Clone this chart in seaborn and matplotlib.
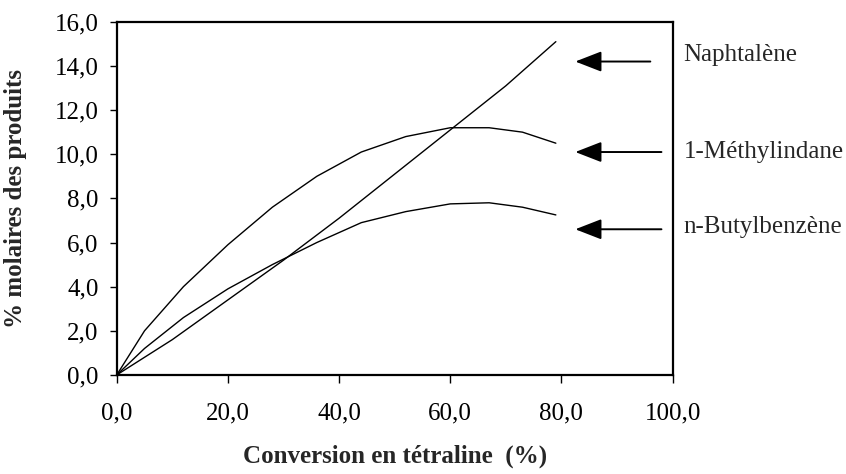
import matplotlib
matplotlib.use("Agg")
import matplotlib.pyplot as plt
import seaborn as sns
import pandas as pd
from matplotlib.ticker import FuncFormatter

# values
conv_naph = [0, 10, 20, 30, 40, 50, 60, 70, 79]
naphtalene = [0, 1.6, 3.4, 5.2, 7.1, 9.1, 11.1, 13.1, 15.1]

conv_curves = [0, 5, 12, 20, 28, 36, 44, 52, 60, 67, 73, 79]
methylindane = [0, 2.0, 4.0, 5.9, 7.6, 9.0, 10.1, 10.8, 11.2, 11.2, 11.0, 10.5]
butylbenzene = [0, 1.2, 2.6, 3.9, 5.0, 6.0, 6.9, 7.4, 7.75, 7.8, 7.6, 7.25]

labels = ["Naphtalène", "1-Méthylindane", "n-Butylbenzène"]
label_y = [14.5, 10.1, 6.7]
arrow_y = [14.2, 10.1, 6.6]
arrow_tail = [96.0, 98.0, 98.0]
arrow_head = [82.5, 82.5, 82.5]

df = pd.concat([
    pd.DataFrame({"conv": conv_naph, "val": naphtalene, "prod": labels[0]}),
    pd.DataFrame({"conv": conv_curves, "val": methylindane, "prod": labels[1]}),
    pd.DataFrame({"conv": conv_curves, "val": butylbenzene, "prod": labels[2]}),
])

sns.set_theme(style="ticks")
plt.rcParams["font.family"] = ["Liberation Serif", "DejaVu Serif"]

fig = plt.figure(figsize=(8.46, 4.74), dpi=100)
ax = fig.add_axes([0.138, 0.209, 0.657, 0.745])

sns.lineplot(data=df, x="conv", y="val", hue="prod", estimator=None,
             palette=["black"] * 3, linewidth=1.0, legend=False, ax=ax)

ax.set_xlim(0, 100)
ax.set_ylim(0, 16)
ax.set_xticks(range(0, 101, 20))
ax.set_yticks(range(0, 17, 2))
fmt = FuncFormatter(lambda v, p: f"{v:.1f}".replace(".", ","))
ax.xaxis.set_major_formatter(fmt)
ax.yaxis.set_major_formatter(fmt)
ax.tick_params(axis="x", labelsize=18, length=6, width=1, pad=14, colors="black")
ax.tick_params(axis="y", labelsize=18, length=5, width=1, pad=8, colors="black")
for s in ax.spines.values():
    s.set_visible(True)
    s.set_linewidth(1.6)
    s.set_color("black")

ax.set_xlabel("Conversion en tétraline  (%)", fontsize=18, fontweight="bold", labelpad=14)
ax.set_ylabel("% molaires des produits", fontsize=18, fontweight="bold", labelpad=20)

for lab, ly, ay, t, h in zip(labels, label_y, arrow_y, arrow_tail, arrow_head):
    ax.annotate("", xy=(h, ay), xytext=(t, ay), annotation_clip=False,
                arrowprops=dict(arrowstyle="-|>,head_length=0.9,head_width=0.35",
                                color="black", lw=1.4, mutation_scale=18,
                                shrinkA=0, shrinkB=0))
    ax.text(102, ly, lab, fontsize=18, va="center", ha="left", clip_on=False)

fig.savefig("out.png", dpi=100)
